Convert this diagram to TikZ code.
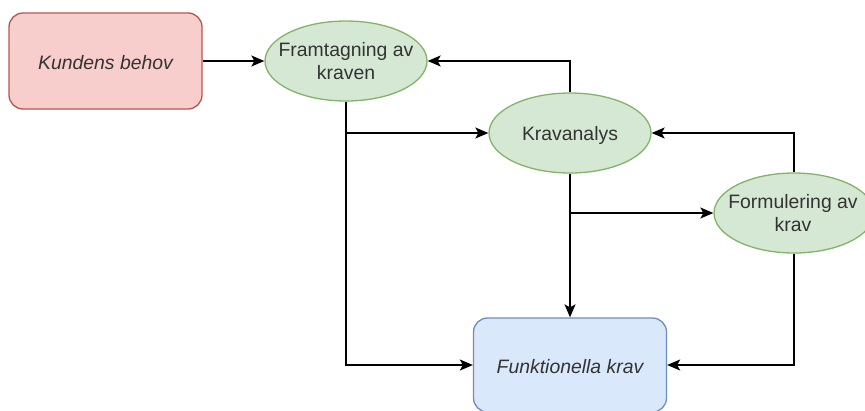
\documentclass[tikz,border=0pt]{standalone}
\usepackage{fontspec}
\setmainfont{Liberation Sans}
\usetikzlibrary{shapes.geometric,arrows.meta}

\definecolor{redfill}{HTML}{F8CECC}
\definecolor{redline}{HTML}{B85450}
\definecolor{greenfill}{HTML}{D5E8D4}
\definecolor{greenline}{HTML}{82B366}
\definecolor{bluefill}{HTML}{DAE8FC}
\definecolor{blueline}{HTML}{6C8EBF}
\definecolor{txtgray}{HTML}{333333}

\tikzset{
  box/.style={rectangle, rounded corners=14pt, line width=1.3pt,
    minimum width=193pt, inner sep=0pt},
  oval/.style={ellipse, line width=1.3pt, fill=greenfill, draw=greenline,
    minimum width=162pt, minimum height=80pt, inner sep=0pt},
  txt/.style={font=\fontsize{19.4pt}{23.5pt}\selectfont, text=txtgray,
    align=center, inner sep=0pt},
  flow/.style={line width=1.5pt, -{Stealth[length=13pt,width=11pt,inset=3pt]}},
}

\begin{document}
\begin{tikzpicture}[x=1pt,y=-1pt]
  \useasboundingbox (0,0) rectangle (865,410);
  \clip (0,0) rectangle (865,410);

  % process steps
  \node[box, fill=redfill, draw=redline, minimum height=96pt] (kund) at (105.5,61) {};
  \node[txt, font=\fontsize{19.4pt}{23.5pt}\selectfont\itshape] (kundt) at ([yshift=-2pt]kund.center) {Kundens behov};

  \node[oval] (fram) at (346,61) {};
  \node[txt] (framt) at (fram) {Framtagning av\\kraven};

  \node[oval] (anal) at (570,133) {};
  \node[txt] (analt) at ([yshift=-2pt]anal.center) {Kravanalys};

  \node[oval, minimum width=160pt] (form) at (794,213) {};
  \node[txt] (formt) at ([xshift=-1pt]form.center) {Formulering av\\krav};

  \node[box, fill=bluefill, draw=blueline, minimum height=94pt] (funk) at (570,365) {};
  \node[txt, font=\fontsize{19.4pt}{23.5pt}\selectfont\itshape] (funkt) at ([yshift=-2pt]funk.center) {Funktionella krav};

  % connectors
  \draw[flow] (kund.east) -- (fram.west);
  \draw[flow] (anal.north) |- (fram.east);
  \draw[flow] (fram.south) |- (anal.west);
  \draw[flow] (fram.south) |- (funk.west);
  \draw[flow] (anal.south) -- (funk.north);
  \draw[flow] (anal.south) |- (form.west);
  \draw[flow] (form.north) |- (anal.east);
  \draw[flow] (form.south) |- (funk.east);
\end{tikzpicture}
\end{document}
